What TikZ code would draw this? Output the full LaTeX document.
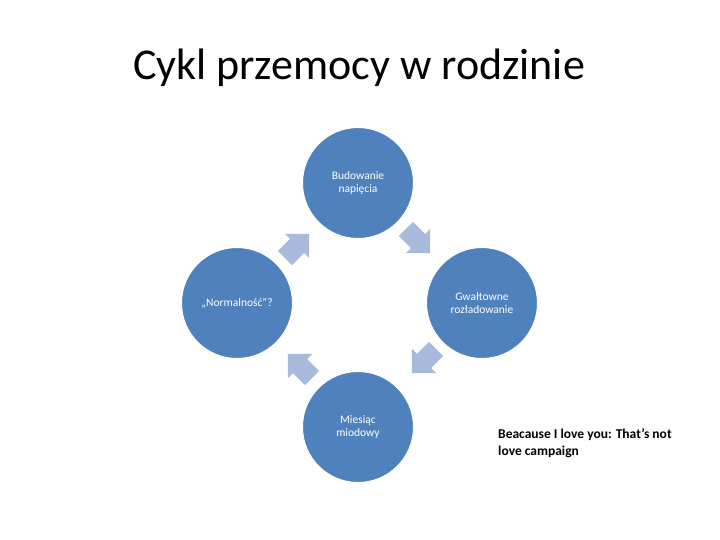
\documentclass[tikz,border=0pt]{standalone}
\usepackage{fontspec}
\setmainfont{Carlito}
\definecolor{circblue}{HTML}{4F81BD}
\definecolor{arrblue}{HTML}{A7BADB}
\tikzset{
  phase/.style={circle, fill=circblue, draw=white, line width=1pt, minimum size=111pt, inner sep=0pt,
    text=white, font=\fontsize{11.5}{13}\selectfont, align=center},
  cyclearrow/.style={fill=arrblue, draw=none}
}
\begin{document}
\begin{tikzpicture}[x=1pt,y=-1pt]
\useasboundingbox (0,0) rectangle (720,540);
\node (title) at (359,68) {\fontsize{44}{50}\selectfont Cykl przemocy w rodzinie};
\node[phase] (top) at (358,183) {Budowanie\\napięcia};
\node[phase] (right) at (482,303) {Gwałtowne\\rozładowanie};
\node[phase] (bottom) at (358,427) {Miesiąc\\miodowy};
\node[phase] (left) at (237,303) {„Normalność”?};
\foreach \cx/\cy/\ang/\nm in {297/246/45/atl, 418/241/-45/atr, 424/361/-135/abr, 300/366/135/abl}{
  \begin{scope}[shift={(\cx,\cy)}, rotate=\ang]
    \fill[cyclearrow] (-17,-10) -- (0,-10) -- (0,-17) -- (17,0) -- (0,17) -- (0,10) -- (-17,10) -- cycle;
    \coordinate (\nm) at (0,0);
  \end{scope}
}
\node[anchor=north west, align=left, inner sep=0pt, font=\bfseries\fontsize{13.5}{17}\selectfont] (note) at (498,428) {Beacause I love you: That’s not\\love campaign};
\end{tikzpicture}
\end{document}
